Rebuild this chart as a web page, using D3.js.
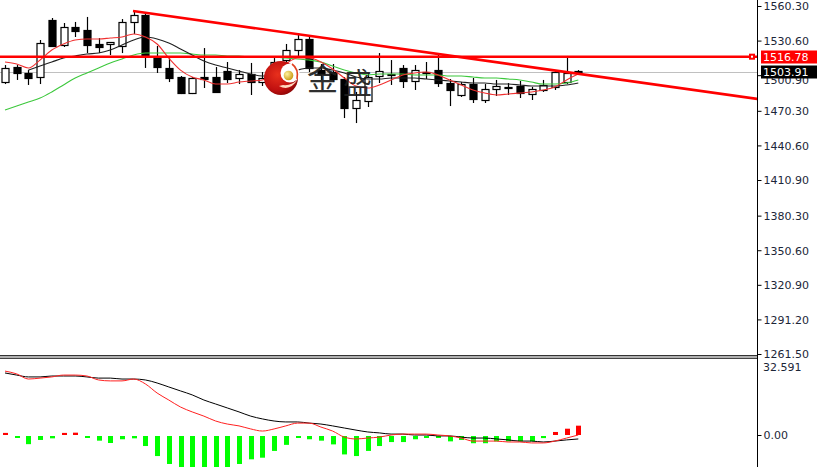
<!DOCTYPE html>
<html>
<head>
<meta charset="utf-8">
<script src="https://cdn.jsdelivr.net/npm/d3@7/dist/d3.min.js"></script>
<style>
html,body{margin:0;padding:0;background:#fff;}
svg{display:block;}
</style>
</head>
<body>
<svg id="chart" width="817" height="467"></svg>
<script>
// ---------------- DATA ----------------
const opens  = [1495.0,1507.9,1502.8,1499.3,1548.3,1526.8,1542.3,1539.7,1527.7,1527.7,
                1526.0,1546.6,1552.6,1516.5,1507.1,1499.3,1485.6,1499.3,1499.3,1504.5,
                1498.5,1501.9,1495.0,1503.6,1513.9,1522.5,1532.0,1505.3,1503.6,1497.6,
                1472.7,1478.7,1500.2,1501.1,1507.1,1495.9,1502.8,1505.3,1494.2,1483.9,
                1493.3,1479.6,1489.0,1490.8,1491.6,1484.7,1488.2,1490.8,1495.0,1504.5];
const highs  = [1509.6,1509.6,1505.3,1531.1,1550.0,1545.7,1546.6,1550.9,1532.8,1529.4,
                1549.1,1556.0,1554.3,1526.0,1515.6,1500.2,1499.3,1524.2,1507.9,1512.2,
                1505.3,1511.4,1503.6,1515.6,1527.7,1537.1,1534.5,1510.5,1510.5,1499.3,
                1486.5,1502.8,1519.9,1513.9,1509.6,1509.6,1512.2,1518.2,1497.6,1495.0,
                1498.5,1493.3,1496.8,1494.2,1495.9,1490.8,1496.8,1505.3,1517.4,1505.3];
const lows   = [1493.3,1496.8,1492.5,1493.3,1525.1,1525.1,1533.7,1519.9,1519.9,1518.2,
                1519.9,1536.3,1507.1,1502.8,1495.0,1484.7,1484.7,1489.9,1485.6,1494.2,
                1493.3,1483.9,1491.6,1498.5,1511.4,1517.4,1503.6,1496.8,1495.0,1464.1,
                1459.8,1473.6,1494.2,1492.5,1489.9,1488.2,1497.6,1490.8,1474.4,1482.2,
                1477.0,1477.0,1483.0,1483.9,1481.3,1479.6,1486.5,1488.2,1493.3,1501.9];
const closes = [1507.1,1502.8,1498.5,1528.5,1526.0,1542.3,1538.8,1526.8,1525.1,1529.4,
                1546.6,1552.6,1518.2,1507.9,1498.5,1485.6,1498.5,1497.6,1486.5,1497.6,
                1501.9,1495.0,1498.5,1512.2,1522.5,1532.0,1507.1,1501.9,1497.6,1472.7,
                1479.6,1499.3,1504.5,1501.9,1495.9,1505.3,1503.6,1494.2,1488.2,1493.3,
                1480.5,1489.0,1491.6,1489.9,1485.6,1489.0,1492.5,1503.6,1502.8,1503.9];

// moving averages (price values per candle)
const maRed = [1512.2,1510.5,1507.1,1513.9,1522.5,1527.7,1531.1,1532.0,1532.0,1532.8,
               1533.7,1536.3,1533.7,1527.7,1515.6,1505.3,1499.3,1496.8,1493.3,1493.3,
               1495.0,1495.9,1496.8,1501.9,1510.5,1515.6,1515.6,1512.2,1506.2,1498.5,
               1491.6,1489.9,1492.5,1496.8,1501.1,1502.8,1503.6,1501.1,1496.8,1492.5,
               1488.2,1485.6,1483.9,1484.7,1485.6,1486.5,1488.2,1490.8,1496.8,1501.9];
const maBlackStart = 2;
const maBlack = [1505.3,1508.8,1512.2,1515.6,1517.4,1519.1,1519.9,1522.5,1526.8,1531.1,
                 1533.7,1532.0,1528.5,1523.4,1518.2,1513.1,1509.6,1507.1,1504.5,1501.9,
                 1500.2,1500.2,1501.9,1505.3,1507.1,1507.1,1505.3,1502.8,1499.3,1497.6,
                 1497.6,1498.5,1498.5,1498.5,1497.6,1496.8,1495.9,1495.0,1494.2,1494.2,
                 1493.3,1493.3,1492.5,1491.6,1491.6,1491.6,1492.5,1494.2];
const maGreen = [1471.0,1474.4,1477.9,1481.3,1486.5,1492.5,1498.5,1502.8,1507.1,1511.4,
                 1514.8,1518.2,1519.9,1519.9,1519.9,1519.9,1519.1,1518.2,1518.2,1517.4,
                 1517.4,1516.5,1516.5,1516.5,1515.6,1514.8,1513.9,1512.2,1508.8,1505.3,
                 1502.8,1501.1,1501.9,1501.9,1501.9,1501.1,1501.1,1501.1,1500.2,1500.2,
                 1499.3,1498.5,1498.5,1497.6,1496.8,1495.0,1493.3,1493.3,1494.2,1496.8];

// MACD panel
const macdBlack = [26.6,25.7,24.9,24.9,25.3,25.3,25.3,24.9,24.4,24.4,
                   24.0,24.0,23.6,22.3,20.6,18.9,17.2,15.0,13.3,11.6,
                   9.9,8.1,6.9,6.0,5.6,5.6,5.1,4.7,3.9,3.0,
                   2.1,1.3,0.9,0.4,0.4,0.0,0.0,-0.4,-0.4,-0.9,
                   -1.3,-1.3,-1.7,-2.1,-2.6,-2.6,-3.0,-2.6,-2.1,-1.7];
const macdRed = [27.4,26.2,24.0,24.4,24.9,25.7,25.7,25.3,23.6,23.2,
                 23.2,24.0,21.9,18.0,15.0,12.0,9.9,8.1,6.0,4.7,
                 3.9,2.6,1.7,2.6,3.9,5.1,5.1,3.4,1.7,-0.9,
                 -1.7,-1.3,-0.9,0.0,0.4,0.4,0.4,0.0,-0.4,-1.3,
                 -2.6,-2.6,-2.6,-3.0,-3.0,-3.4,-3.4,-2.6,-1.3,0.0];
const macdHist = [0.9,-0.7,-3.5,-1.7,-1.0,0.9,1.0,-0.7,-2.0,-3.0,
                  -1.4,-1.0,-4.3,-8.6,-12.0,-15.0,-15.0,-15.0,-15.0,-14.5,
                  -12.0,-10.0,-9.3,-6.4,-3.8,-0.4,-1.4,-2.0,-3.6,-7.9,
                  -8.6,-6.4,-4.3,-2.6,-2.6,-1.4,-0.3,-0.5,-2.3,-1.7,
                  -3.1,-3.1,-2.3,-2.3,-2.3,-2.3,-0.9,1.3,2.7,4.0];

const priceTicks = [1560.30,1530.60,1500.90,1470.30,1440.60,1410.90,1380.30,1350.60,1320.90,1291.20,1261.50];
const macdTicks = [0];
const macdTop = 32.591;
const levelPrice = 1516.78;
const lastPrice = 1503.91;
const trendPoints = [{i:10.94, p:1556.0}, {i:64.3, p:1480.5}];
const watermarkChars = ["金","盛"];

// ---------------- LAYOUT ----------------
const W = 817, H = 467;
const axisX = 757;
const mainTop = 0, mainBottom = 355;
const subTop = 359, subBottom = 467;

const svg = d3.select("#chart");
const x = d3.scaleLinear().domain([0, 49]).range([5, 578.3]);
const y = d3.scaleLinear().domain([1261.5, 1560.3]).range([354, 6]);
const ym = d3.scaleLinear().domain([0, macdTop]).range([435, 359]);
const px = i => Math.round(x(i)) + 0.5;

const defs = svg.append("defs");
defs.append("clipPath").attr("id","clipMain").append("rect")
  .attr("x",0).attr("y",mainTop).attr("width",axisX).attr("height",mainBottom-mainTop);
defs.append("clipPath").attr("id","clipSub").append("rect")
  .attr("x",0).attr("y",subTop).attr("width",axisX).attr("height",subBottom-subTop);
const grad = defs.append("radialGradient").attr("id","logoGrad")
  .attr("cx","40%").attr("cy","40%").attr("r","65%");
grad.append("stop").attr("offset","0%").attr("stop-color","#e8301c");
grad.append("stop").attr("offset","70%").attr("stop-color","#c01010");
grad.append("stop").attr("offset","100%").attr("stop-color","#8a0606");
const gold = defs.append("radialGradient").attr("id","goldGrad")
  .attr("cx","35%").attr("cy","35%").attr("r","70%");
gold.append("stop").attr("offset","0%").attr("stop-color","#fff2a0");
gold.append("stop").attr("offset","100%").attr("stop-color","#c89a10");

const main = svg.append("g").attr("clip-path","url(#clipMain)");

// last-price gray line
main.append("line")
  .attr("x1",0).attr("x2",axisX).attr("y1",Math.round(y(lastPrice))+0.5).attr("y2",Math.round(y(lastPrice))+0.5)
  .attr("stroke","#c0c0c0").attr("stroke-width",1);

// candles
const idx = d3.range(opens.length);
const cg = main.append("g");
cg.selectAll("line.wick").data(idx).join("line").attr("class","wick")
  .attr("x1",px).attr("x2",px)
  .attr("y1",i=>y(highs[i])).attr("y2",i=>y(lows[i]))
  .attr("stroke","#000").attr("stroke-width",1.2);
cg.selectAll("rect.body").data(idx).join("rect").attr("class","body")
  .attr("x",i=>px(i)-3.5)
  .attr("width",7)
  .attr("y",i=>Math.round(y(Math.max(opens[i],closes[i])))+0.5)
  .attr("height",i=>Math.max(1,Math.round(Math.abs(y(opens[i])-y(closes[i])))))
  .attr("fill",i=>closes[i]>=opens[i]?"#fff":"#000")
  .attr("stroke","#000").attr("stroke-width",1.2);

// moving averages
const lineFn = d3.line().curve(d3.curveMonotoneX);
main.append("path")
  .attr("d", lineFn(maGreen.map((v,i)=>[x(i),y(v)])))
  .attr("fill","none").attr("stroke","#3cc83c").attr("stroke-width",1.1);
main.append("path")
  .attr("d", lineFn(maBlack.map((v,i)=>[x(i+maBlackStart),y(v)])))
  .attr("fill","none").attr("stroke","#202020").attr("stroke-width",1.1);
main.append("path")
  .attr("d", lineFn(maRed.map((v,i)=>[x(i),y(v)])))
  .attr("fill","none").attr("stroke","#f03030").attr("stroke-width",1.1);

// horizontal level line
const ly = y(levelPrice);
main.append("line").attr("x1",0).attr("x2",axisX).attr("y1",ly).attr("y2",ly)
  .attr("stroke","#ff0000").attr("stroke-width",2.6);
// trend line
main.append("line")
  .attr("x1",x(trendPoints[0].i)).attr("y1",y(trendPoints[0].p))
  .attr("x2",x(trendPoints[1].i)).attr("y2",y(trendPoints[1].p))
  .attr("stroke","#ff0000").attr("stroke-width",2.6);
// small marker on level line
main.append("rect").attr("x",axisX-8).attr("y",ly-3).attr("width",6).attr("height",6)
  .attr("fill","#ff0000");
main.append("rect").attr("x",axisX-6).attr("y",ly-1).attr("width",2).attr("height",2)
  .attr("fill","#fff");

// watermark logo
const logo = svg.append("g");
logo.append("circle").attr("cx",281).attr("cy",78).attr("r",17).attr("fill","url(#logoGrad)");
logo.append("circle").attr("cx",290).attr("cy",73).attr("r",9.5).attr("fill","#fff");
logo.append("path").attr("d","M279,86 Q290,92 298,79 Q292,86 283,85 Z").attr("fill","#ffd9c0");
logo.append("circle").attr("cx",288.5).attr("cy",75.5).attr("r",4.8).attr("fill","url(#goldGrad)");
logo.append("path").attr("d","M292,64 Q299,69 297,79").attr("fill","none").attr("stroke","#e04020").attr("stroke-width",1.6);
const wm = svg.append("g").attr("font-family","'Noto Sans CJK SC','Noto Sans CJK JP',sans-serif")
  .attr("fill","#1e1e1e").attr("opacity",0.92);
wm.append("text").attr("x",307).attr("y",90).attr("font-size",31).text(watermarkChars[0]);
wm.append("text").attr("x",343).attr("y",94).attr("font-size",29).text(watermarkChars[1]);

// ---------------- MACD panel ----------------
const sub = svg.append("g").attr("clip-path","url(#clipSub)");
sub.selectAll("rect.hist").data(idx).join("rect").attr("class","hist")
  .attr("x",i=>Math.round(x(i))-2)
  .attr("width",5)
  .attr("y",i=>macdHist[i]>=0?ym(macdHist[i]):ym(0)+1)
  .attr("height",i=>Math.max(2,Math.abs(ym(macdHist[i])-ym(0))))
  .attr("fill",i=>macdHist[i]>=0?"#ff0000":"#00ff00");
const mline = d3.line().curve(d3.curveMonotoneX);
sub.append("path").attr("d", mline(macdBlack.map((v,i)=>[x(i),ym(v)])))
  .attr("fill","none").attr("stroke","#000").attr("stroke-width",1);
sub.append("path").attr("d", mline(macdRed.map((v,i)=>[x(i),ym(v)])))
  .attr("fill","none").attr("stroke","#ff2020").attr("stroke-width",1);

// panel separator
svg.append("rect").attr("x",0).attr("y",355).attr("width",axisX).attr("height",4).attr("fill","#b0b0b0");
svg.append("line").attr("x1",0).attr("x2",axisX).attr("y1",355.5).attr("y2",355.5).attr("stroke","#333");
svg.append("line").attr("x1",0).attr("x2",axisX).attr("y1",358.5).attr("y2",358.5).attr("stroke","#444");

// ---------------- AXES ----------------
svg.append("line").attr("x1",axisX+0.5).attr("x2",axisX+0.5).attr("y1",0).attr("y2",H)
  .attr("stroke","#000").attr("stroke-width",1);

const fontFam = "'DejaVu Sans', Verdana, sans-serif";
const ax = svg.append("g").attr("transform",`translate(${axisX+0.5},0)`)
  .call(d3.axisRight(y).tickValues(priceTicks).tickFormat(d3.format(".2f")).tickSize(4).tickPadding(2));
ax.select(".domain").remove();
ax.selectAll("text").attr("font-family",fontFam).attr("font-size",11).attr("fill","#1c2638").attr("dy","0.35em");
ax.selectAll("line").attr("stroke","#000");
// the tick label at the last-price level sits behind the price tag (as in the reference)
ax.selectAll(".tick").filter(d=>Math.abs(d-lastPrice)<5).select("text").attr("dy","0.75em");

const axm = svg.append("g").attr("transform",`translate(${axisX+0.5},0)`)
  .call(d3.axisRight(ym).tickValues(macdTicks).tickFormat(d3.format(".2f")).tickSize(4).tickPadding(2));
axm.select(".domain").remove();
axm.selectAll("text").attr("font-family",fontFam).attr("font-size",11).attr("fill","#1c2638").attr("dy","0.35em");
axm.selectAll("line").attr("stroke","#000");
svg.append("text").attr("x",axisX+6).attr("y",ym(macdTop)+8).attr("dy","0.35em")
  .attr("font-family",fontFam).attr("font-size",11).attr("fill","#1c2638")
  .text(d3.format(".3f")(macdTop));

// price labels
function priceTag(p, bg) {
  const cy = y(p);
  svg.append("rect").attr("x",axisX+4).attr("y",Math.round(cy)-6.5).attr("width",W-axisX-4).attr("height",13).attr("fill",bg);
  svg.append("text").attr("x",axisX+6).attr("y",cy).attr("dy","0.35em")
    .attr("font-family",fontFam).attr("font-size",11).attr("fill","#fff")
    .text(d3.format(".2f")(p));
}
priceTag(levelPrice, "#ff0000");
priceTag(lastPrice, "#000");
</script>
</body>
</html>
